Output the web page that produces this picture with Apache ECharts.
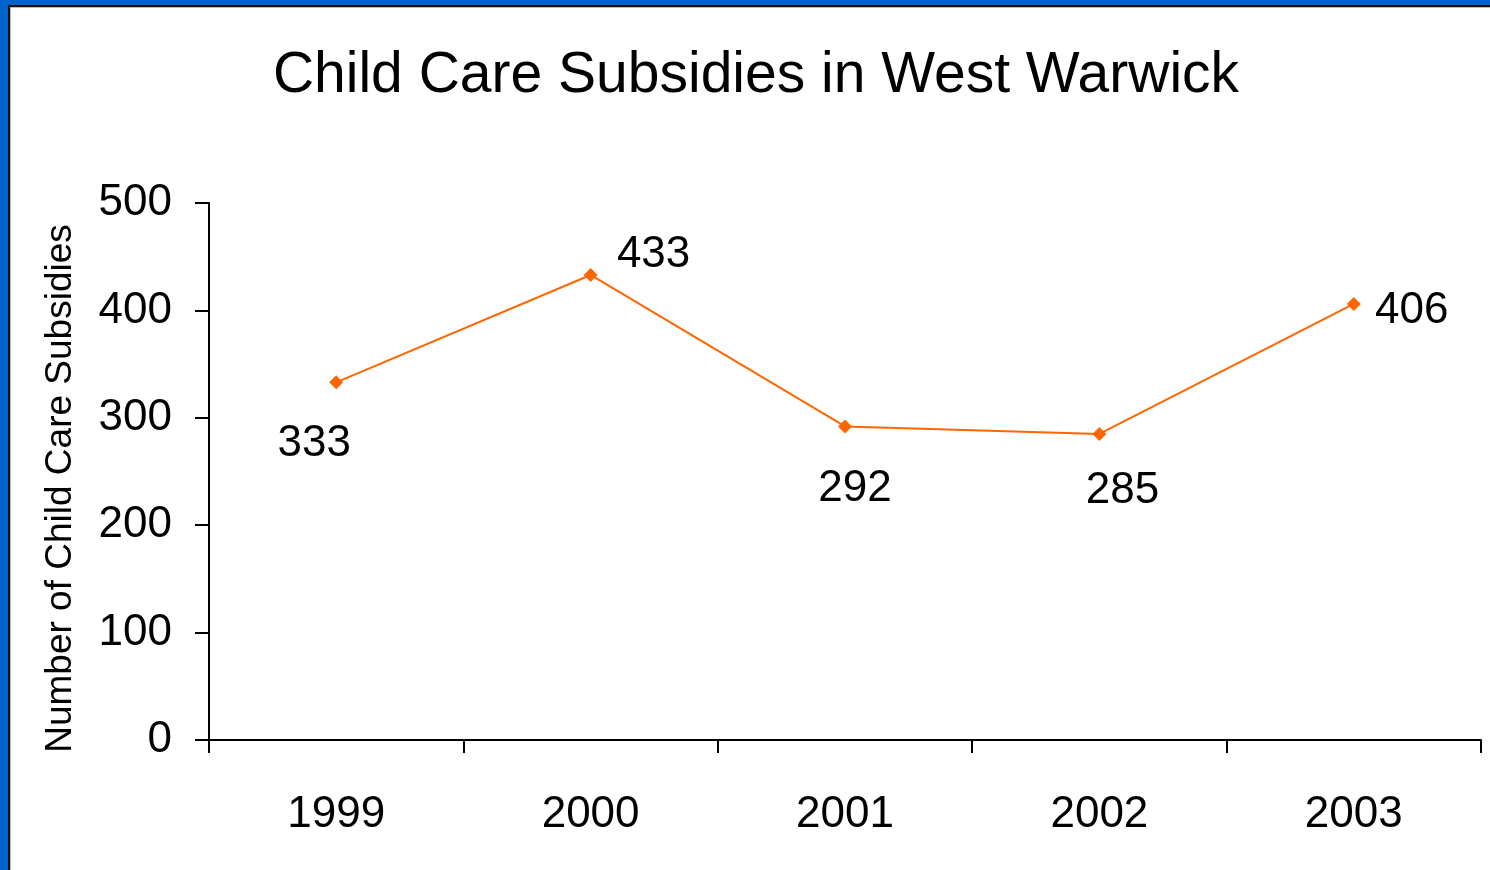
<!DOCTYPE html>
<html>
<head>
<meta charset="utf-8">
<script src="https://cdn.jsdelivr.net/npm/echarts@6/dist/echarts.min.js"></script>
<style>
html,body{margin:0;padding:0;background:#fff;}
#c{width:1490px;height:870px;}
</style>
</head>
<body>
<div id="c"></div>
<script>
const years = ['1999', '2000', '2001', '2002', '2003'];
const subsidies = [333, 433, 292, 285, 406];
const yTicks = { min: 0, max: 500, interval: 100 };
const titleText = 'Child Care Subsidies in West Warwick';
const yAxisName = 'Number of Child Care Subsidies';
// label offsets relative to each point (style only)
const labelOffsets = [[-22, 62], [63, -20], [10, 62], [23, 57], [58, 7]];

const FONT = 'Liberation Sans, Arial, sans-serif';
const chart = echarts.init(document.getElementById('c'));
chart.setOption({
  backgroundColor: '#ffffff',
  animation: false,
  title: {
    text: titleText,
    left: 751,
    top: 43,
    textAlign: 'center',
    textStyle: { fontFamily: FONT, fontSize: 57, fontWeight: 'normal', color: '#000' }
  },
  grid: { left: 209, right: 9, top: 203, bottom: 130, containLabel: false },
  xAxis: {
    type: 'category',
    data: years,
    boundaryGap: true,
    axisLine: { lineStyle: { color: '#000', width: 2 } },
    axisTick: { show: true, length: 13, alignWithLabel: false, lineStyle: { color: '#000', width: 2 } },
    axisLabel: { margin: 53, fontFamily: FONT, fontSize: 44, color: '#000' },
    splitLine: { show: false }
  },
  yAxis: {
    type: 'value',
    min: yTicks.min,
    max: yTicks.max,
    interval: yTicks.interval,
    name: yAxisName,
    nameLocation: 'middle',
    nameGap: 130,
    nameRotate: 90,
    nameTextStyle: { fontFamily: FONT, fontSize: 37, color: '#000', padding: [0, 34, 0, 0] },
    axisLine: { show: true, lineStyle: { color: '#000', width: 2 } },
    axisTick: { show: true, length: 14, lineStyle: { color: '#000', width: 2 } },
    axisLabel: { margin: 37, fontFamily: FONT, fontSize: 44, color: '#000' },
    splitLine: { show: false }
  },
  series: [{
    type: 'line',
    data: subsidies.map((v, i) => ({
      value: v,
      label: { offset: labelOffsets[i] }
    })),
    symbol: 'diamond',
    symbolSize: 14,
    lineStyle: { color: '#ff6600', width: 2 },
    itemStyle: { color: '#ff6600' },
    label: {
      show: true,
      position: 'inside',
      align: 'center',
      verticalAlign: 'middle',
      fontFamily: FONT,
      fontSize: 44,
      color: '#000'
    }
  }],
  graphic: [
    { type: 'rect', shape: { x: 0, y: 0, width: 1490, height: 5 }, style: { fill: '#0063cc' }, z: 100 },
    { type: 'rect', shape: { x: 0, y: 0, width: 8, height: 870 }, style: { fill: '#0063cc' }, z: 100 },
    { type: 'rect', shape: { x: 8, y: 5, width: 1482, height: 2 }, style: { fill: '#111' }, z: 100 },
    { type: 'rect', shape: { x: 8, y: 5, width: 2, height: 865 }, style: { fill: '#111' }, z: 100 },
    { type: 'rect', shape: { x: 10, y: 7, width: 1480, height: 1 }, style: { fill: '#bbb' }, z: 100 },
    { type: 'rect', shape: { x: 10, y: 7, width: 1, height: 863 }, style: { fill: '#bbb' }, z: 100 }
  ]
});
</script>
</body>
</html>
